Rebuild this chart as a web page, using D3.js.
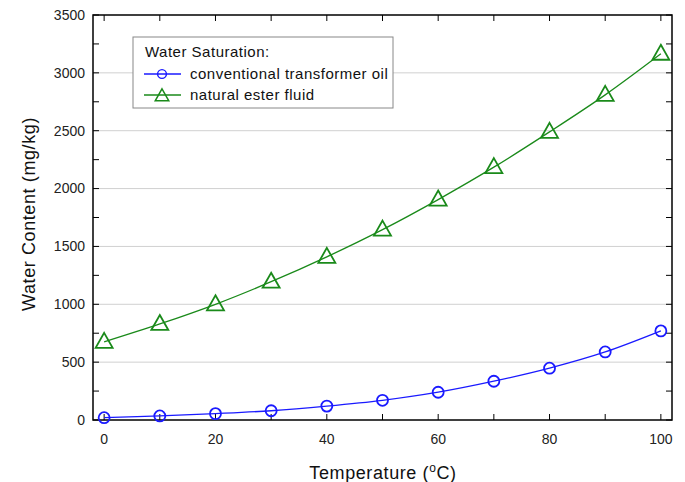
<!DOCTYPE html>
<html>
<head>
<meta charset="utf-8">
<script src="https://cdn.jsdelivr.net/npm/d3@7"></script>
<style>
  body { margin: 0; background: #fff; }
  text { font-family: "Liberation Sans", Arial, sans-serif; }
</style>
</head>
<body>
<svg width="685" height="482"></svg>
<script>
const temps = [0, 10, 20, 30, 40, 50, 60, 70, 80, 90, 100];
const mineralOil = [20, 35, 55, 80, 120, 170, 240, 335, 448, 588, 770];
const esterFluid = [675, 830, 1000, 1195, 1410, 1645, 1905, 2185, 2490, 2810, 3165];
const xTicks = [0, 20, 40, 60, 80, 100];
const yTicks = [0, 500, 1000, 1500, 2000, 2500, 3000, 3500];

const svg = d3.select("svg"),
  margin = { top: 15, right: 13, bottom: 62, left: 93 },
  width = +svg.attr("width") - margin.left - margin.right,
  height = +svg.attr("height") - margin.top - margin.bottom,
  g = svg.append("g").attr("transform", `translate(${margin.left},${margin.top})`);

const x = d3.scaleLinear().domain([-2, 102]).range([0, width]);
const y = d3.scaleLinear().domain([0, 3500]).range([height, 0]);

// grid lines
g.append("g")
  .selectAll("line")
  .data(yTicks.slice(1, -1))
  .join("line")
  .attr("x1", 0).attr("x2", width)
  .attr("y1", d => y(d)).attr("y2", d => y(d))
  .attr("stroke", "#d0d0d0").attr("stroke-width", 1);

// ticks pointing inward on all four sides
const minorX = d3.range(0, 101, 10);
const minorY = d3.range(0, 3501, 250);
const axes = g.append("g").attr("stroke", "#000").attr("stroke-width", 1);
minorX.forEach(v => {
  axes.append("line").attr("x1", x(v)).attr("x2", x(v)).attr("y1", height).attr("y2", height - 6);
  axes.append("line").attr("x1", x(v)).attr("x2", x(v)).attr("y1", 0).attr("y2", 6);
});
minorY.forEach(v => {
  axes.append("line").attr("x1", 0).attr("x2", 6).attr("y1", y(v)).attr("y2", y(v));
  axes.append("line").attr("x1", width).attr("x2", width - 6).attr("y1", y(v)).attr("y2", y(v));
});

// frame
g.append("rect")
  .attr("width", width).attr("height", height)
  .attr("fill", "none").attr("stroke", "#000").attr("stroke-width", 1.5);

// tick labels
g.append("g")
  .selectAll("text")
  .data(xTicks)
  .join("text")
  .attr("x", d => x(d)).attr("y", height + 24)
  .attr("text-anchor", "middle")
  .attr("font-size", 14).attr("fill", "#222")
  .text(d => d);

g.append("g")
  .selectAll("text")
  .data(yTicks)
  .join("text")
  .attr("x", -8).attr("y", d => y(d)).attr("dy", "0.35em")
  .attr("text-anchor", "end")
  .attr("font-size", 14).attr("fill", "#222")
  .text(d => d);

// axis titles
const xt = svg.append("text")
  .attr("x", 383).attr("y", 479)
  .attr("text-anchor", "middle")
  .attr("font-size", 18).attr("letter-spacing", 0.6).attr("fill", "#111");
xt.append("tspan").text("Temperature (");
xt.append("tspan").attr("font-size", 12).attr("dy", -7).text("o");
xt.append("tspan").attr("dy", 7).text("C)");

svg.append("text")
  .attr("transform", `translate(35,214) rotate(-90)`)
  .attr("text-anchor", "middle")
  .attr("font-size", 18).attr("letter-spacing", 0.6).attr("fill", "#111")
  .text("Water Content (mg/kg)");

// lines
const series = [
  { name: "conventional transformer oil", values: mineralOil, color: "#1a1aff", marker: "circle" },
  { name: "natural ester fluid", values: esterFluid, color: "#1a8a1a", marker: "triangle" }
];

const line = d3.line()
  .x((d, i) => x(temps[i]))
  .y(d => y(d))
  .curve(d3.curveCatmullRom);

const triangle = "M0,-9L8.5,6L-8.5,6Z";

function drawMarker(sel, s) {
  if (s.marker === "circle") {
    sel.append("circle").attr("r", 5.5)
      .attr("fill", "none").attr("stroke", s.color).attr("stroke-width", 1.8);
  } else {
    sel.append("path").attr("d", triangle)
      .attr("fill", "none").attr("stroke", s.color).attr("stroke-width", 1.8);
  }
}

series.forEach(s => {
  g.append("path")
    .datum(s.values)
    .attr("d", line)
    .attr("fill", "none")
    .attr("stroke", s.color)
    .attr("stroke-width", 1.3);

  g.append("g")
    .selectAll("g")
    .data(s.values)
    .join("g")
    .attr("transform", (d, i) => `translate(${x(temps[i])},${y(d)})`)
    .each(function () { drawMarker(d3.select(this), s); });
});

// legend
const legend = svg.append("g").attr("transform", "translate(133,37)");
legend.append("rect")
  .attr("width", 260).attr("height", 71)
  .attr("fill", "#fff").attr("stroke", "#888").attr("stroke-width", 1);
legend.append("text")
  .attr("x", 12).attr("y", 20)
  .attr("font-size", 15).attr("letter-spacing", 0.5).attr("fill", "#111")
  .text("Water Saturation:");

series.forEach((s, i) => {
  const row = legend.append("g").attr("transform", `translate(0,${37 + i * 21})`);
  row.append("line").attr("x1", 11).attr("x2", 48)
    .attr("stroke", s.color).attr("stroke-width", 1.3);
  const m = row.append("g").attr("transform", `translate(29,${s.marker === "triangle" ? 1 : 0}) scale(0.8)`);
  drawMarker(m, s);
  row.append("text")
    .attr("x", 57).attr("dy", "0.35em")
    .attr("font-size", 15).attr("letter-spacing", 0.5).attr("fill", "#111")
    .text(s.name);
});
</script>
</body>
</html>
